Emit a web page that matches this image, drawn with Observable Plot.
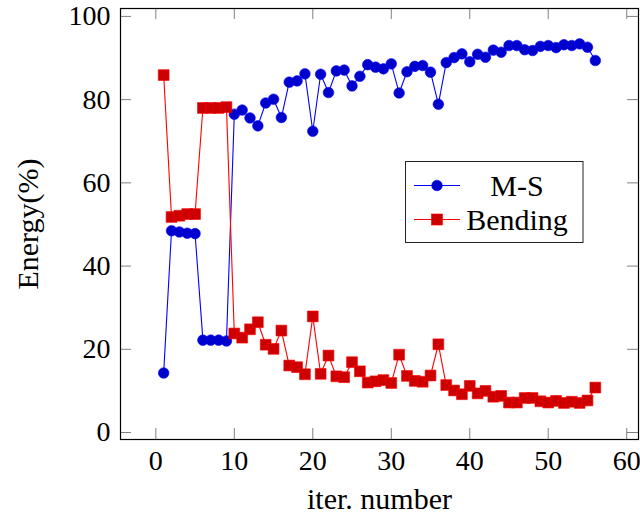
<!DOCTYPE html>
<html><head><meta charset="utf-8">
<script src="https://cdn.jsdelivr.net/npm/d3@7"></script>
<script src="https://cdn.jsdelivr.net/npm/@observablehq/plot@0.6"></script>
<style>body{margin:0;background:#fff} #chart{width:640px;height:516px}
#chart svg, #chart svg text{font-family:"Liberation Serif", serif !important;}</style>
</head><body><div id="chart"></div>
<script>
const iterations = [1,2,3,4,5,6,7,8,9,10,11,12,13,14,15,16,17,18,19,20,21,22,23,24,25,26,27,28,29,30,31,32,33,34,35,36,37,38,39,40,41,42,43,44,45,46,47,48,49,50,51,52,53,54,55,56];
const msValues = [14.3,48.5,48.2,47.9,47.8,22.2,22.2,22.2,22.0,76.5,77.5,75.6,73.7,79.2,80.1,75.7,84.2,84.5,86.2,72.4,86.1,81.7,86.9,87.1,83.3,85.6,88.4,87.8,87.4,88.6,81.6,86.7,88.0,88.2,86.6,78.9,88.9,90.1,91.0,89.1,90.9,90.2,91.9,91.4,93.0,93.0,92.0,91.8,92.8,93.0,92.5,93.2,93.0,93.4,92.6,89.4];
const bendingValues = [85.9,51.8,52.1,52.5,52.5,78.0,78.0,78.0,78.2,23.8,22.8,24.8,26.5,21.1,20.1,24.5,16.1,15.7,14.0,27.9,14.1,18.5,13.5,13.3,16.9,14.7,12.0,12.3,12.6,11.9,18.7,13.6,12.4,12.2,13.7,21.2,11.4,10.1,9.2,11.2,9.4,10.0,8.6,8.8,7.2,7.2,8.3,8.3,7.5,7.2,7.6,7.1,7.4,7.1,7.7,10.8];
const seriesNames = ["M-S", "Bending"];
const xTicks = [0,10,20,30,40,50,60];
const yTicks = [0,20,40,60,80,100];

const ms = iterations.map((x,i)=>({x, v: msValues[i]}));
const bend = iterations.map((x,i)=>({x, v: bendingValues[i]}));

const font = "Liberation Serif";
const tickColor = "#808080";
const plot = Plot.plot({
  width: 640, height: 516,
  marginLeft: 120, marginRight: 2, marginTop: 8, marginBottom: 77,
  style: {fontFamily: font, background: "white", overflow: "visible", color: "black"},
  x: {domain: [-4.5, 61.5]},
  y: {domain: [-1.68, 101.9]},
  marks: [
    Plot.tickX(xTicks, {x: d=>d, insetTop: 420, stroke: tickColor, strokeWidth: 1}),
    Plot.tickX(xTicks, {x: d=>d, insetBottom: 420, stroke: tickColor, strokeWidth: 1}),
    Plot.tickY(yTicks, {y: d=>d, insetRight: 507, stroke: tickColor, strokeWidth: 1}),
    Plot.tickY(yTicks, {y: d=>d, insetLeft: 507, stroke: tickColor, strokeWidth: 1}),
    Plot.axisX(xTicks, {tickSize: 0, tickPadding: 11, fontSize: 28, fontFamily: font, label: null}),
    Plot.axisY(yTicks, {tickSize: 0, tickPadding: 10, fontSize: 28, fontFamily: font, label: null}),
    Plot.text(["iter. number"], {frameAnchor: "bottom", dy: 60, fontSize: 30, fontFamily: font, textAnchor: "middle", lineAnchor: "middle"}),
    Plot.text(["Energy(%)"], {frameAnchor: "left", dx: -92, dy: 0, rotate: -90, fontSize: 30, fontFamily: font, textAnchor: "middle", lineAnchor: "middle"}),
    Plot.line(ms, {x: "x", y: "v", stroke: "#0000ff", strokeWidth: 1.1}),
    Plot.dot(ms, {x: "x", y: "v", r: 5.3, fill: "#0000cc", stroke: "#0000ff", strokeWidth: 0.6}),
    Plot.line(bend, {x: "x", y: "v", stroke: "#ff0000", strokeWidth: 1.1}),
    Plot.dot(bend, {x: "x", y: "v", symbol: "square", r: 6.1, fill: "#cc0000", stroke: "#ff0000", strokeWidth: 0.6}),
    Plot.frame({stroke: "black", strokeWidth: 1.2})
  ]
});
document.getElementById("chart").append(plot);

// legend
const svg = d3.select(plot);
const lg = svg.append("g").attr("font-family", font);
lg.append("rect").attr("x", 405.5).attr("y", 161.5).attr("width", 177.5).attr("height", 81)
  .attr("fill", "white").attr("stroke", "#222").attr("stroke-width", 1);
const rows = [
  {name: seriesNames[0], line: "#0000ff", fill: "#0000cc", shape: "circle"},
  {name: seriesNames[1], line: "#ff0000", fill: "#cc0000", shape: "square"}
];
rows.forEach((r, i) => {
  const cy = 185.5 + i * 34;
  lg.append("line").attr("x1", 414).attr("x2", 460).attr("y1", cy).attr("y2", cy)
    .attr("stroke", r.line).attr("stroke-width", 1.1);
  if (r.shape === "circle") {
    lg.append("circle").attr("cx", 437).attr("cy", cy).attr("r", 5.3)
      .attr("fill", r.fill).attr("stroke", r.line).attr("stroke-width", 0.6);
  } else {
    lg.append("rect").attr("x", 437 - 5.5).attr("y", cy - 5.5).attr("width", 11).attr("height", 11)
      .attr("fill", r.fill).attr("stroke", r.line).attr("stroke-width", 0.6);
  }
  lg.append("text").attr("x", 517).attr("y", cy).attr("dy", "0.34em").attr("text-anchor", "middle")
    .attr("font-size", 30).attr("fill", "black").text(r.name);
});
</script>
</body></html>
